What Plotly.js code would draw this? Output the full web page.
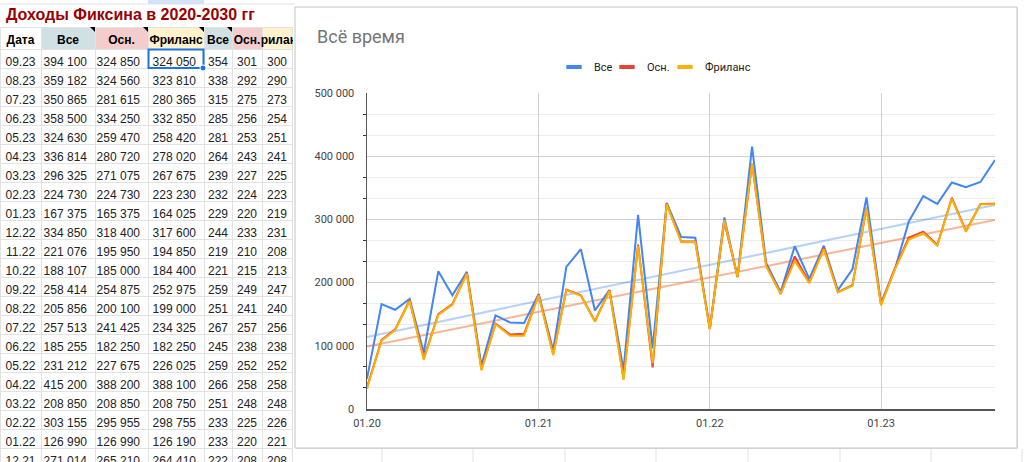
<!DOCTYPE html>
<html><head><meta charset="utf-8">
<script src="https://cdn.plot.ly/plotly-3.0.1.min.js"></script>
<style>
html,body{margin:0;padding:0;background:#fff;overflow:hidden}
#chart{width:1024px;height:462px}
.scrollbar-kit{display:none}
</style>
</head><body><div id="chart"></div><script>
// ---------- chart data (chronological) ----------
const months = [
 '2020-01-01','2020-02-01','2020-03-01','2020-04-01','2020-05-01','2020-06-01','2020-07-01','2020-08-01','2020-09-01','2020-10-01','2020-11-01','2020-12-01',
 '2021-01-01','2021-02-01','2021-03-01','2021-04-01','2021-05-01','2021-06-01','2021-07-01','2021-08-01','2021-09-01','2021-10-01','2021-11-01','2021-12-01',
 '2022-01-01','2022-02-01','2022-03-01','2022-04-01','2022-05-01','2022-06-01','2022-07-01','2022-08-01','2022-09-01','2022-10-01','2022-11-01','2022-12-01',
 '2023-01-01','2023-02-01','2023-03-01','2023-04-01','2023-05-01','2023-06-01','2023-07-01','2023-08-01','2023-09-01'];
const monthLabels = [
 '01.20','02.20','03.20','04.20','05.20','06.20','07.20','08.20','09.20','10.20','11.20','12.20',
 '01.21','02.21','03.21','04.21','05.21','06.21','07.21','08.21','09.21','10.21','11.21','12.21',
 '01.22','02.22','03.22','04.22','05.22','06.22','07.22','08.22','09.22','10.22','11.22','12.22',
 '01.23','02.23','03.23','04.23','05.23','06.23','07.23','08.23','09.23'];
const seriesAll = [
 48000,166000,157000,174000,89000,218000,180000,217000,69000,148000,137000,136000,
 182000,93000,225000,253000,156000,188000,62000,307000,96000,326000,272000,271014,
 126990,303155,208850,415200,231212,185255,257513,205856,258414,188107,221076,334850,
 167375,224730,296325,336814,324630,358500,350865,359182,394100];
const seriesMain = [
 34000,109000,126000,172000,80000,150000,166000,215000,63000,135000,118000,119000,
 181000,87000,189000,180000,139000,188000,48000,260000,66000,325000,265000,265210,
 126990,295955,208850,388200,227675,182250,241425,200100,254875,185000,195950,318400,
 165375,224730,271075,280720,259470,334250,281615,324560,324850];
const seriesFree = [
 32000,108000,125000,171000,78000,149000,165000,214000,61000,134000,116000,116000,
 180000,85000,188000,179000,138000,187000,46000,258000,72000,324000,264000,264410,
 126190,298755,208750,388100,226025,182250,234325,199000,252975,184400,194850,317600,
 164025,223230,267675,278020,258420,332850,280365,323810,324050];
// trend lines (end points)
const trendDates = ['2020-01-01','2023-09-01'];
const trendAll = [114000, 323000];
const trendMain = [99000, 299000];

// ---------- spreadsheet data ----------
const sheetTitle = 'Доходы Фиксина в 2020-2030 гг';
const sheetHeaders = ['Дата','Все','Осн.','Фриланс','Все','Осн.','Фриланс'];
const sheetRowsShown = 22; // 09.23 back to 12.21
const sheetAllK  = [354,338,315,285,281,264,239,232,229,244,219,221,259,251,267,245,259,266,251,233,233,222];
const sheetMainK = [301,292,275,256,253,243,227,224,220,233,210,215,249,241,257,238,252,258,248,225,220,208];
const sheetFreeK = [300,290,273,254,251,241,225,223,219,231,208,213,247,240,256,238,252,258,248,226,221,208];

const NB = '\u00a0';
function fmt(v){ return String(v).replace(/\B(?=(\d{3})+(?!\d))/g, NB); }
function lastReversed(arr){ return arr.slice(arr.length - sheetRowsShown).reverse(); }

const W = 1024, H = 462;
const px = x => x / W;
const py = y => 1 - y / H;

const colAll = '#4285f4', colMain = '#ea4335', colFree = '#fbb104';
const sheetFont = 'Liberation Sans, Arial, sans-serif';
const chartFont = 'Roboto, Arial, sans-serif';

const traces = [
 {type:'scatter', mode:'lines', x:trendDates, y:trendAll, line:{color:'rgba(66,133,244,0.38)', width:2}, showlegend:false, hoverinfo:'skip'},
 {type:'scatter', mode:'lines', x:trendDates, y:trendMain, line:{color:'rgba(240,120,60,0.55)', width:2}, showlegend:false, hoverinfo:'skip'},
 {type:'scatter', mode:'lines', x:months, y:seriesAll, name:'Все', line:{color:colAll, width:2}, showlegend:false},
 {type:'scatter', mode:'lines', x:months, y:seriesMain, name:'Осн.', line:{color:colMain, width:2}, showlegend:false},
 {type:'scatter', mode:'lines', x:months, y:seriesFree, name:'Фриланс', line:{color:colFree, width:2}, showlegend:false},
 // legend entries
 {type:'scatter', mode:'markers', x:[null], y:[null], name:'Все', legendwidth:8, marker:{symbol:'line-ew', size:11, line:{width:4, color:colAll}}},
 {type:'scatter', mode:'markers', x:[null], y:[null], name:'Осн.', legendwidth:13, marker:{symbol:'line-ew', size:11, line:{width:4, color:colMain}}},
 {type:'scatter', mode:'markers', x:[null], y:[null], name:'Фриланс', legendwidth:45, marker:{symbol:'line-ew', size:11, line:{width:4, color:colFree}}},
 {
  type:'table',
  domain:{x:[0, px(292)], y:[0, py(27)]},
  columnwidth:[41,54,53,56,28,30,30],
  header:{
   values: sheetHeaders,
   align:'center', height:22,
   fill:{color:['#ffffff','#d0e0e3','#f4cccc','#fff2cc','#d0e0e3','#f4cccc','#fff2cc']},
   line:{color:'#e2e2e2', width:1},
   font:{family:sheetFont, size:12, color:'#000', weight:'bold'}
  },
  cells:{
   values:[
    lastReversed(monthLabels),
    lastReversed(seriesAll).map(fmt),
    lastReversed(seriesMain).map(fmt),
    lastReversed(seriesFree).map(fmt),
    sheetAllK, sheetMainK, sheetFreeK
   ],
   align:['center','right','right','right','center','center','center'],
   height:19,
   fill:{color:'#ffffff'},
   line:{color:'#e2e2e2', width:1},
   font:{family:sheetFont, size:12, color:'#222'}
  }
 }
];

function tri(xr){ // small comment marker at top-right of header cell
  return {type:'path', xref:'paper', yref:'paper', layer:'above',
    path:`M ${px(xr-5)} ${py(27)} L ${px(xr)} ${py(27)} L ${px(xr)} ${py(32)} Z`,
    fillcolor:'#000', line:{width:0}};
}
const shapes = [
 // chart card shadow + card
 {type:'rect', xref:'paper', yref:'paper', x0:px(296), x1:px(1018), y0:py(449), y1:py(8), fillcolor:'#e4e4e4', line:{width:0}, layer:'below'},
 {type:'rect', xref:'paper', yref:'paper', x0:px(295), x1:px(1017), y0:py(448), y1:py(7), fillcolor:'#ffffff', line:{color:'#c4c4c4', width:1}, layer:'below'},
 // top strip of the sheet
 {type:'rect', xref:'paper', yref:'paper', x0:px(148), x1:px(204), y0:py(4), y1:py(0), fillcolor:'#d3e3fd', line:{width:0}, layer:'below'},
 {type:'line', xref:'paper', yref:'paper', x0:0, x1:px(295), y0:py(4), y1:py(4), line:{color:'#e2e2e2', width:1}, layer:'below'},
 // selected cell
 {type:'rect', xref:'paper', yref:'paper', x0:px(148.5), x1:px(203.5), y0:py(68), y1:py(49.5), line:{color:'#1a73e8', width:2}, layer:'above'},
 {type:'circle', xref:'paper', yref:'paper', x0:px(200), x1:px(206), y0:py(71), y1:py(65), fillcolor:'#1a73e8', line:{color:'#ffffff', width:1}, layer:'above'},
 tri(95), tri(148), tri(204), tri(232)
];
// sheet grid visible below the card
[382,473,565,656,748,840,931,1022].forEach(x => shapes.push(
 {type:'line', xref:'paper', yref:'paper', x0:px(x), x1:px(x), y0:py(449), y1:0, line:{color:'#e2e2e2', width:1}, layer:'below'}));

const layout = {
 width:W, height:H,
 margin:{l:0, r:0, t:0, b:0},
 paper_bgcolor:'#ffffff', plot_bgcolor:'rgba(0,0,0,0)',
 separators:', ',
 font:{family:chartFont, color:'#444'},
 title:{text:'Всё время', x:px(317), xanchor:'left', y:py(37), yanchor:'middle',
        font:{family:chartFont, size:18, color:'#757575'}},
 showlegend:true,
 legend:{orientation:'h', x:px(554), xanchor:'left', y:py(67), yanchor:'middle',
         font:{family:chartFont, size:11, color:'#222'}, itemwidth:30, bgcolor:'rgba(0,0,0,0)', tracegroupgap:0},
 xaxis:{type:'date', domain:[px(367), px(995)], range:[months[0], months[months.length-1]],
        tickformat:'%m.%y', dtick:'M12', tick0:'2020-01-01',
        showgrid:true, gridcolor:'#d0d0d0', gridwidth:1,
        showline:true, linecolor:'#555', linewidth:1.5, zeroline:false,
        ticks:'', ticklabelstandoff:3, tickfont:{family:chartFont, size:11, color:'#444'}, fixedrange:true},
 yaxis:{domain:[py(409), py(93)], range:[0, 500000], dtick:100000, tickformat:',d',
        showgrid:true, gridcolor:'#d0d0d0', gridwidth:1,
        showline:true, linecolor:'#555', linewidth:1.5, zeroline:false,
        ticks:'', ticklabelstandoff:9, tickfont:{family:chartFont, size:11, color:'#444'},
        minor:{dtick:100000/3, tick0:0, showgrid:true, gridcolor:'#ededed', ticks:'outside', ticklen:3, tickcolor:'#333', tickwidth:1},
        fixedrange:true},
 shapes:shapes,
 annotations:[
  {xref:'paper', yref:'paper', x:px(4), y:py(15), xanchor:'left', yanchor:'middle', showarrow:false,
   text:sheetTitle, font:{family:sheetFont, size:16, color:'#990000', weight:'bold'}}
 ]
};

Plotly.newPlot('chart', traces, layout, {displayModeBar:false, staticPlot:true});
</script></body></html>
